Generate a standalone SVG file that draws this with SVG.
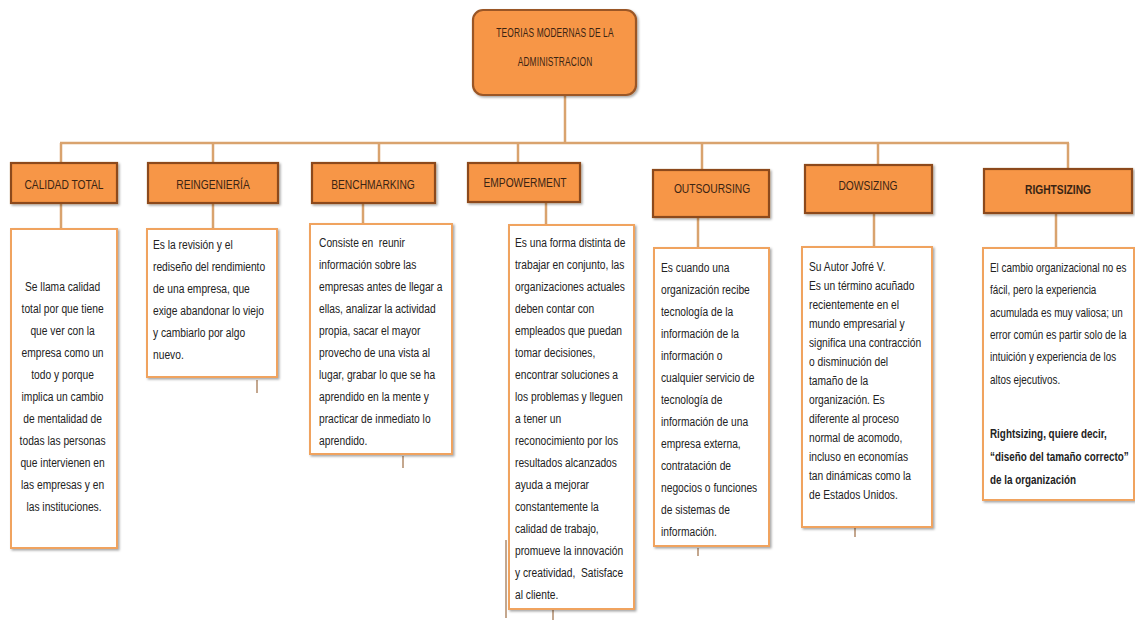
<svg xmlns="http://www.w3.org/2000/svg" width="1135" height="620" viewBox="0 0 1135 620">
  <defs>
    <filter id="shadow" x="-10%" y="-10%" width="130%" height="130%">
      <feDropShadow dx="1.5" dy="1.5" stdDeviation="1" flood-color="#000" flood-opacity="0.35"/>
    </filter>
    <style>
      .head { fill: #f79646; stroke: #8c4a1c; stroke-width: 2.2; }
      .title { fill: #f79646; stroke: #9a5626; stroke-width: 2.2; }
      .body { fill: #ffffff; stroke: #f0a35e; stroke-width: 2; }
      .link { stroke: #d9a36e; stroke-width: 2.5; fill: none; }
      .tick { stroke: #b08a68; stroke-width: 1.5; fill: none; }
      text { font-family: "Liberation Sans", Arial, sans-serif; fill: #222; }
      .ht { font-size: 12.5px; fill: #3a2413; text-anchor: middle; }
      .tt { font-size: 12px; fill: #3a2413; text-anchor: middle; letter-spacing: 0.2px; }
      .bt { font-size: 12.5px; }
      .ct { text-anchor: middle; }
      .b { font-weight: bold; }
    </style>
  </defs>
  <rect width="1135" height="620" fill="#ffffff"/>

  <!-- connectors -->
  <g id="connectors">
    <line class="link" x1="565" y1="96" x2="565" y2="143"/>
    <line class="link" x1="60" y1="143" x2="1069" y2="143"/>
    <line class="link" x1="61" y1="143" x2="61" y2="163"/>
    <line class="link" x1="213" y1="143" x2="213" y2="163"/>
    <line class="link" x1="379" y1="143" x2="379" y2="163"/>
    <line class="link" x1="518" y1="143" x2="518" y2="163"/>
    <line class="link" x1="702" y1="143" x2="702" y2="170"/>
    <line class="link" x1="878" y1="143" x2="878" y2="165"/>
    <line class="link" x1="1068" y1="143" x2="1068" y2="169"/>
    <line class="link" x1="61" y1="203" x2="61" y2="229"/>
    <line class="link" x1="213" y1="203" x2="213" y2="229"/>
    <line class="link" x1="363" y1="203" x2="363" y2="224"/>
    <line class="link" x1="546" y1="202" x2="546" y2="225"/>
    <line class="link" x1="698" y1="217" x2="698" y2="248"/>
    <line class="link" x1="874" y1="213" x2="874" y2="247"/>
    <line class="link" x1="1056" y1="213" x2="1056" y2="248"/>
    <!-- short stubs below boxes -->
    <line class="tick" x1="257" y1="380" x2="257" y2="393"/>
    <line class="tick" x1="403" y1="456" x2="403" y2="468"/>
    <line class="tick" x1="553" y1="610" x2="553" y2="620"/>
    <line class="tick" x1="506" y1="540" x2="506" y2="618"/>
    <line class="tick" x1="698" y1="548" x2="698" y2="556"/>
    <line class="tick" x1="855" y1="528" x2="855" y2="537"/>
  </g>

  <!-- root -->
  <g id="root">
    <rect class="title" x="473" y="10" width="163" height="85" rx="10" filter="url(#shadow)"/>
    <g transform="translate(555,0) scale(0.7,1)">
      <text class="tt" x="0" y="37">TEORIAS MODERNAS DE LA</text>
      <text class="tt" x="0" y="66">ADMINISTRACION</text>
    </g>
  </g>

  <!-- CALIDAD TOTAL -->
  <g id="calidad-total">
    <rect class="head" x="11" y="163" width="106" height="40" filter="url(#shadow)"/>
    <text class="ht" transform="translate(64,189) scale(0.82,1)">CALIDAD TOTAL</text>
    <rect class="body" x="11" y="229" width="106" height="319" filter="url(#shadow)"/>
    <g transform="translate(64,0) scale(0.82,1)">
      <text class="bt ct">
        <tspan x="0" y="291">Se llama calidad</tspan>
        <tspan x="0" y="313">total por que tiene</tspan>
        <tspan x="0" y="335">que ver con la</tspan>
        <tspan x="0" y="357">empresa como un</tspan>
        <tspan x="0" y="379">todo y porque</tspan>
        <tspan x="0" y="401">implica un cambio</tspan>
        <tspan x="0" y="423">de mentalidad de</tspan>
        <tspan x="0" y="445">todas las personas</tspan>
        <tspan x="0" y="467">que intervienen en</tspan>
        <tspan x="0" y="489">las empresas y en</tspan>
        <tspan x="0" y="511">las instituciones.</tspan>
      </text>
    </g>
  </g>

  <!-- REINGENIERIA -->
  <g id="reingenieria">
    <rect class="head" x="148" y="163" width="130" height="40" filter="url(#shadow)"/>
    <text class="ht" transform="translate(213,189) scale(0.82,1)">REINGENIERÍA</text>
    <rect class="body" x="147" y="229" width="130" height="148" filter="url(#shadow)"/>
    <g transform="translate(153,0) scale(0.82,1)">
      <text class="bt">
        <tspan x="0" y="249">Es la revisión y el</tspan>
        <tspan x="0" y="271">rediseño del rendimiento</tspan>
        <tspan x="0" y="293">de una empresa, que</tspan>
        <tspan x="0" y="315">exige abandonar lo viejo</tspan>
        <tspan x="0" y="337">y cambiarlo por algo</tspan>
        <tspan x="0" y="359">nuevo.</tspan>
      </text>
    </g>
  </g>

  <!-- BENCHMARKING -->
  <g id="benchmarking">
    <rect class="head" x="312" y="163" width="123" height="40" filter="url(#shadow)"/>
    <text class="ht" transform="translate(373,189) scale(0.82,1)">BENCHMARKING</text>
    <rect class="body" x="310" y="224" width="142" height="230" filter="url(#shadow)"/>
    <g transform="translate(319,0) scale(0.82,1)">
      <text class="bt">
        <tspan x="0" y="247">Consiste en&#160; reunir</tspan>
        <tspan x="0" y="269">información sobre las</tspan>
        <tspan x="0" y="291">empresas antes de llegar a</tspan>
        <tspan x="0" y="313">ellas, analizar la actividad</tspan>
        <tspan x="0" y="335">propia, sacar el mayor</tspan>
        <tspan x="0" y="357">provecho de una vista al</tspan>
        <tspan x="0" y="379">lugar, grabar lo que se ha</tspan>
        <tspan x="0" y="401">aprendido en la mente y</tspan>
        <tspan x="0" y="423">practicar de inmediato lo</tspan>
        <tspan x="0" y="445">aprendido.</tspan>
      </text>
    </g>
  </g>

  <!-- EMPOWERMENT -->
  <g id="empowerment">
    <rect class="head" x="468" y="163" width="112" height="39" filter="url(#shadow)"/>
    <text class="ht" transform="translate(525,187) scale(0.82,1)">EMPOWERMENT</text>
    <rect class="body" x="509" y="225" width="125" height="384" filter="url(#shadow)"/>
    <g transform="translate(515,0) scale(0.82,1)">
      <text class="bt">
        <tspan x="0" y="247">Es una forma distinta de</tspan>
        <tspan x="0" y="269">trabajar en conjunto, las</tspan>
        <tspan x="0" y="291">organizaciones actuales</tspan>
        <tspan x="0" y="313">deben contar con</tspan>
        <tspan x="0" y="335">empleados que puedan</tspan>
        <tspan x="0" y="357">tomar decisiones,</tspan>
        <tspan x="0" y="379">encontrar soluciones a</tspan>
        <tspan x="0" y="401">los problemas y lleguen</tspan>
        <tspan x="0" y="423">a tener un</tspan>
        <tspan x="0" y="445">reconocimiento por los</tspan>
        <tspan x="0" y="467">resultados alcanzados</tspan>
        <tspan x="0" y="489">ayuda a mejorar</tspan>
        <tspan x="0" y="511">constantemente la</tspan>
        <tspan x="0" y="533">calidad de trabajo,</tspan>
        <tspan x="0" y="555">promueve la innovación</tspan>
        <tspan x="0" y="577">y creatividad,&#160; Satisface</tspan>
        <tspan x="0" y="599">al cliente.</tspan>
      </text>
    </g>
  </g>

  <!-- OUTSOURSING -->
  <g id="outsoursing">
    <rect class="head" x="653" y="170" width="116" height="47" filter="url(#shadow)"/>
    <text class="ht" transform="translate(712,193) scale(0.82,1)">OUTSOURSING</text>
    <rect class="body" x="654" y="248" width="115" height="298" filter="url(#shadow)"/>
    <g transform="translate(661,0) scale(0.82,1)">
      <text class="bt">
        <tspan x="0" y="272">Es cuando una</tspan>
        <tspan x="0" y="294">organización recibe</tspan>
        <tspan x="0" y="316">tecnología de la</tspan>
        <tspan x="0" y="338">información de la</tspan>
        <tspan x="0" y="360">información o</tspan>
        <tspan x="0" y="382">cualquier servicio de</tspan>
        <tspan x="0" y="404">tecnología de</tspan>
        <tspan x="0" y="426">información de una</tspan>
        <tspan x="0" y="448">empresa externa,</tspan>
        <tspan x="0" y="470">contratación de</tspan>
        <tspan x="0" y="492">negocios o funciones</tspan>
        <tspan x="0" y="514">de sistemas de</tspan>
        <tspan x="0" y="536">información.</tspan>
      </text>
    </g>
  </g>

  <!-- DOWSIZING -->
  <g id="dowsizing">
    <rect class="head" x="805" y="165" width="127" height="48" filter="url(#shadow)"/>
    <text class="ht" transform="translate(868,190) scale(0.82,1)">DOWSIZING</text>
    <rect class="body" x="802" y="247" width="130" height="280" filter="url(#shadow)"/>
    <g transform="translate(809,0) scale(0.82,1)">
      <text class="bt">
        <tspan x="0" y="271">Su Autor Jofré V.</tspan>
        <tspan x="0" y="290">Es un término acuñado</tspan>
        <tspan x="0" y="309">recientemente en el</tspan>
        <tspan x="0" y="328">mundo empresarial y</tspan>
        <tspan x="0" y="347">significa una contracción</tspan>
        <tspan x="0" y="366">o disminución del</tspan>
        <tspan x="0" y="385">tamaño de la</tspan>
        <tspan x="0" y="404">organización. Es</tspan>
        <tspan x="0" y="423">diferente al proceso</tspan>
        <tspan x="0" y="442">normal de acomodo,</tspan>
        <tspan x="0" y="461">incluso en economías</tspan>
        <tspan x="0" y="480">tan dinámicas como la</tspan>
        <tspan x="0" y="499">de Estados Unidos.</tspan>
      </text>
    </g>
  </g>

  <!-- RIGHTSIZING -->
  <g id="rightsizing">
    <rect class="head" x="984" y="169" width="148" height="44" filter="url(#shadow)"/>
    <text class="ht b" transform="translate(1058,194) scale(0.82,1)">RIGHTSIZING</text>
    <rect class="body" x="983" y="248" width="151" height="252" filter="url(#shadow)"/>
    <g transform="translate(990,0) scale(0.79,1)">
      <text class="bt">
        <tspan x="0" y="272">El cambio organizacional no es</tspan>
        <tspan x="0" y="294">fácil, pero la experiencia</tspan>
        <tspan x="0" y="317">acumulada es muy valiosa; un</tspan>
        <tspan x="0" y="339">error común es partir solo de la</tspan>
        <tspan x="0" y="361">intuición y experiencia de los</tspan>
        <tspan x="0" y="384">altos ejecutivos.</tspan>
      </text>
      <text class="bt b">
        <tspan x="0" y="438">Rightsizing, quiere decir,</tspan>
        <tspan x="0" y="461">“diseño del tamaño correcto”</tspan>
        <tspan x="0" y="484">de la organización</tspan>
      </text>
    </g>
  </g>
</svg>
